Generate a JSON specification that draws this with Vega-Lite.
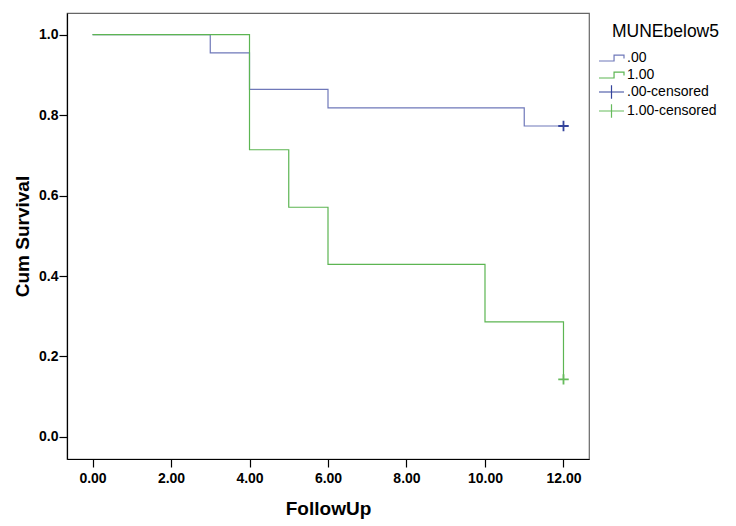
{
  "$schema": "https://vega.github.io/schema/vega-lite/v6.json",
  "width": 522,
  "height": 446,
  "autosize": {"type": "none"},
  "padding": {"left": 67, "top": 13, "right": 147, "bottom": 67},
  "background": "white",
  "config": {
    "view": {"stroke": "#666666", "strokeWidth": 1.2},
    "font": "Liberation Sans",
    "axis": {
      "grid": false,
      "domainColor": "#000000",
      "domainWidth": 1.2,
      "tickColor": "#000000",
      "tickWidth": 1.2,
      "tickSize": 8,
      "labelFont": "Liberation Sans",
      "labelFontWeight": "bold",
      "labelFontSize": 14,
      "labelColor": "#000000",
      "titleFont": "Liberation Sans",
      "titleFontWeight": "bold",
      "titleFontSize": 19,
      "titleColor": "#000000"
    }
  },
  "data": {
    "values": [
      {"series": ".00", "kind": "line", "t": 0, "s": 1.0, "o": 1},
      {"series": ".00", "kind": "line", "t": 3, "s": 0.955, "o": 2},
      {"series": ".00", "kind": "line", "t": 4, "s": 0.864, "o": 3},
      {"series": ".00", "kind": "line", "t": 6, "s": 0.818, "o": 4},
      {"series": ".00", "kind": "line", "t": 11, "s": 0.773, "o": 5},
      {"series": ".00", "kind": "line", "t": 12, "s": 0.773, "o": 6},
      {"series": "1.00", "kind": "line", "t": 0, "s": 1.0, "o": 1},
      {"series": "1.00", "kind": "line", "t": 4, "s": 0.714, "o": 2},
      {"series": "1.00", "kind": "line", "t": 5, "s": 0.571, "o": 3},
      {"series": "1.00", "kind": "line", "t": 6, "s": 0.429, "o": 4},
      {"series": "1.00", "kind": "line", "t": 10, "s": 0.286, "o": 5},
      {"series": "1.00", "kind": "line", "t": 12, "s": 0.286, "o": 6},
      {"series": "1.00", "kind": "line", "t": 12, "s": 0.143, "o": 7},
      {"series": ".00-censored", "kind": "censor", "t": 12, "s": 0.773, "o": 1},
      {"series": "1.00-censored", "kind": "censor", "t": 12, "s": 0.143, "o": 1}
    ]
  },
  "layer": [
    {
      "transform": [{"filter": "datum.kind === 'line'"}],
      "mark": {"type": "line", "interpolate": "step-after", "strokeWidth": 1.2},
      "encoding": {
        "x": {
          "field": "t", "type": "quantitative",
          "scale": {"domain": [-0.65, 12.65], "nice": false, "zero": false},
          "axis": {"values": [0, 2, 4, 6, 8, 10, 12], "format": ".2f", "title": "FollowUp", "labelPadding": 4, "titlePadding": 14}
        },
        "y": {
          "field": "s", "type": "quantitative",
          "scale": {"domain": [-0.055, 1.054], "nice": false, "zero": false},
          "axis": {"values": [0, 0.2, 0.4, 0.6, 0.8, 1.0], "format": ".1f", "title": "Cum Survival", "labelPadding": 1, "titlePadding": 6}
        },
        "order": {"field": "o", "type": "quantitative"},
        "color": {
          "field": "series", "type": "nominal",
          "scale": {
            "domain": [".00", "1.00", ".00-censored", "1.00-censored"],
            "range": ["#6f78b9", "#5cb552", "#34449c", "#66bb5c"]
          },
          "legend": {
            "title": "MUNEbelow5",
            "orient": "none",
            "legendX": 535,
            "legendY": 10,
            "padding": 0,
            "titleFont": "Liberation Sans",
            "titleFontSize": 17.5,
            "titleFontWeight": "normal",
            "titleColor": "#000000",
            "titlePadding": 8,
            "labelFont": "Liberation Sans",
            "labelFontSize": 14,
            "labelColor": "#000000",
            "labelOffset": 6,
            "symbolSize": 289,
            "rowPadding": 0,
            "encode": {
              "title": {"update": {"dx": {"value": 10}}},
              "symbols": {
                "update": {
                  "shape": {"signal": "indexof(datum.value, 'censored') >= 0 ? 'M-1.47,0H1.47M0,-0.8V0.8' : 'M-1.47,0.35H0.3V-0.35H1.47V0.05'"},
                  "fill": {"value": "transparent"},
                  "stroke": {"signal": "scale('color', datum.value)"},
                  "strokeWidth": {"value": 1.2},
                  "opacity": {"value": 1}
                }
              }
            }
          }
        }
      }
    },
    {
      "transform": [{"filter": "datum.kind === 'censor'"}],
      "mark": {"type": "point", "shape": "M-1,0H1M0,-1V1", "filled": false, "size": 110, "strokeWidth": 1.8, "opacity": 1},
      "encoding": {
        "x": {"field": "t", "type": "quantitative"},
        "y": {"field": "s", "type": "quantitative"},
        "color": {"field": "series", "type": "nominal"}
      }
    }
  ]
}
